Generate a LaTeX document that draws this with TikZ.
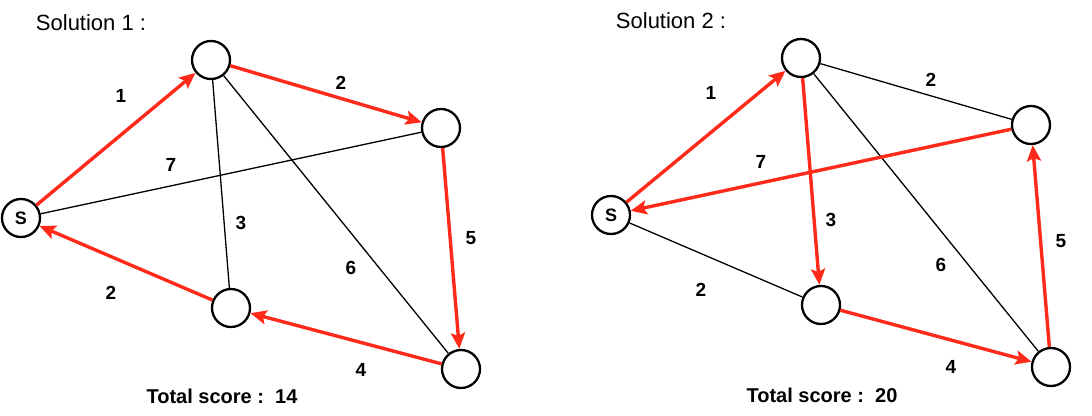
\documentclass[tikz,border=0pt]{standalone}
\usepackage{fontspec}
\setmainfont{Liberation Sans}
\usepackage{tikz}
\usetikzlibrary{arrows.meta}
\definecolor{pathred}{RGB}{255,42,26}
\newcommand{\gvertex}[4]{\node[vertex] (#1) at ( #2 , #3 ) {#4};}
\newcommand{\redarc}[2]{\draw[redarc] (#1) -- (#2);}
\newcommand{\blackarc}[2]{\draw[blackarc] (#1) -- (#2);}
\newcommand{\lablnode}[4]{\node[labl] (#1) at ( #2 , #3 ) {#4};}
\tikzset{
  vertex/.style={shape=circle,draw=black,line width=2.3pt,fill=white,inner sep=0pt,minimum size=38pt,font=\fontsize{18}{18}\selectfont\bfseries},
  redarc/.style={draw=pathred,line width=3.4pt,-{Stealth[length=16pt,width=14pt,inset=3pt]}},
  blackarc/.style={draw=black,line width=1.3pt},
  labl/.style={draw=none,fill=none,inner sep=0pt,font=\fontsize{19}{19}\selectfont\bfseries},
  score/.style={labl,font=\fontsize{20}{20}\selectfont\bfseries},
  title/.style={draw=none,inner sep=0pt,font=\fontsize{22}{22}\selectfont}
}
\begin{document}
\begin{tikzpicture}[x=1pt,y=-1pt]
            \useasboundingbox (0,0) rectangle (1092,415);
            % solution 1
            \node[title] (t1) at ( 91 , 23 ) {Solution 1 :};
            \gvertex{s1}{21}{218}{S}
            \gvertex{a1}{211}{60}{}
            \gvertex{b1}{441}{128}{}
            \gvertex{c1}{231}{308}{}
            \gvertex{d1}{461}{369}{}

            \blackarc{s1}{b1}
            \blackarc{a1}{c1}
            \blackarc{a1}{d1}
            \redarc{s1}{a1}
            \redarc{a1}{b1}
            \redarc{b1}{d1}
            \redarc{d1}{c1}
            \redarc{c1}{s1}

            \lablnode{w1a}{121}{96}{1}
            \lablnode{w1b}{341}{83}{2}
            \lablnode{w1c}{171}{165}{7}
            \lablnode{w1d}{241}{223}{3}
            \lablnode{w1e}{471}{238}{5}
            \lablnode{w1f}{351}{268}{6}
            \lablnode{w1g}{111}{293}{2}
            \lablnode{w1h}{361}{370}{4}
            \node[score] (score1) at ( 222 , 396 ) {Total score :~~14};

            % solution 2
            \node[title] (t2) at ( 671 , 21 ) {Solution 2 :};
            \gvertex{s2}{611}{215}{S}
            \gvertex{a2}{801}{58}{}
            \gvertex{b2}{1031}{125}{}
            \gvertex{c2}{821}{305}{}
            \gvertex{d2}{1051}{367}{}

            \blackarc{a2}{b2}
            \blackarc{s2}{c2}
            \blackarc{a2}{d2}
            \redarc{s2}{a2}
            \redarc{a2}{c2}
            \redarc{c2}{d2}
            \redarc{d2}{b2}
            \redarc{b2}{s2}

            \lablnode{w2a}{711}{93}{1}
            \lablnode{w2b}{931}{80}{2}
            \lablnode{w2c}{761}{162}{7}
            \lablnode{w2d}{831}{220}{3}
            \lablnode{w2e}{1061}{241}{5}
            \lablnode{w2f}{941}{265}{6}
            \lablnode{w2g}{701}{290}{2}
            \lablnode{w2h}{951}{367}{4}
            \node[score] (score2) at ( 822 , 395 ) {Total score :~~20};
\end{tikzpicture}
\end{document}
